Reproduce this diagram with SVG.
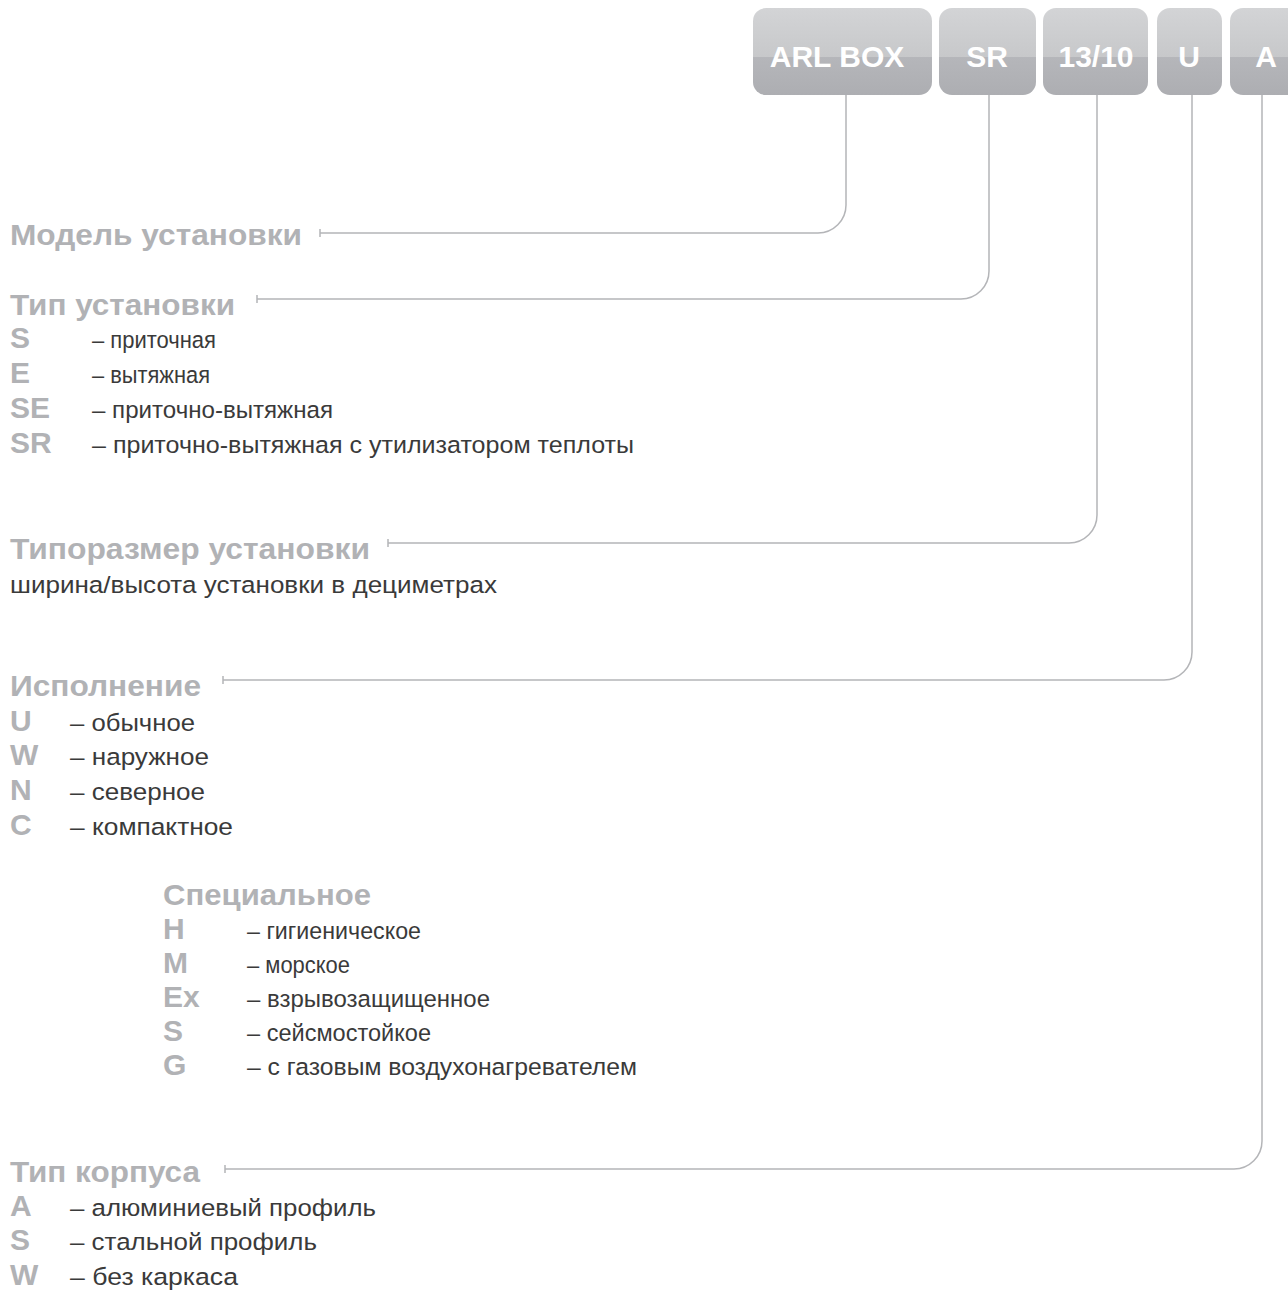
<svg xmlns="http://www.w3.org/2000/svg" width="1288" height="1292" viewBox="0 0 1288 1292">
<defs>
<linearGradient id="gbox" x1="0" y1="0" x2="0" y2="1">
<stop offset="0" stop-color="#d3d4d6"/>
<stop offset="0.565" stop-color="#c7c8ca"/>
<stop offset="0.565" stop-color="#b5b6ba"/>
<stop offset="1" stop-color="#adaeb2"/>
</linearGradient>
<style>
.box{fill:url(#gbox);}
.bt{font-family:"Liberation Sans",Arial,sans-serif;font-weight:bold;font-size:30px;fill:#ffffff;text-anchor:middle;}
.h{font-family:"Liberation Sans",Arial,sans-serif;font-weight:bold;font-size:30px;fill:#b1b2b5;}
.c{font-family:"Liberation Sans",Arial,sans-serif;font-weight:bold;font-size:30px;fill:#b1b2b5;}
.d{font-family:"Liberation Sans",Arial,sans-serif;font-size:24.5px;fill:#3a3a3a;}
.ln{fill:none;stroke:#b4b5b8;stroke-width:1.5;}
</style>
</defs>
<g id="box-arl"><rect class="box" x="753" y="8" width="179" height="87" rx="13"/><text class="bt" x="837" y="67">ARL BOX</text></g>
<g id="box-sr"><rect class="box" x="939" y="8" width="97" height="87" rx="13"/><text class="bt" x="987" y="67">SR</text></g>
<g id="box-size"><rect class="box" x="1043" y="8" width="105" height="87" rx="13"/><text class="bt" x="1096" y="67">13/10</text></g>
<g id="box-u"><rect class="box" x="1157" y="8" width="65" height="87" rx="13"/><text class="bt" x="1189" y="67">U</text></g>
<g id="box-a"><rect class="box" x="1230" y="8" width="72" height="87" rx="13"/><text class="bt" x="1266" y="67">A</text></g>

<g id="connectors">
<path class="ln" d="M846,95 V205 A28,28 0 0 1 818,233 H320 M320,229 V237"/>
<path class="ln" d="M989,95 V271 A28,28 0 0 1 961,299 H257 M257,295 V303"/>
<path class="ln" d="M1097,95 V515 A28,28 0 0 1 1069,543 H388 M388,539 V547"/>
<path class="ln" d="M1192,95 V652 A28,28 0 0 1 1164,680 H223 M223,676 V684"/>
<path class="ln" d="M1262,95 V1141 A28,28 0 0 1 1234,1169 H225 M225,1165 V1173"/>
</g>

<g id="model">
<text class="h" x="10" y="245" textLength="292" lengthAdjust="spacingAndGlyphs">Модель установки</text>
</g>

<g id="type">
<text class="h" x="10" y="315" textLength="225" lengthAdjust="spacingAndGlyphs">Тип установки</text>
<text class="c" x="10" y="348">S</text><text class="d" x="92" y="348" textLength="124" lengthAdjust="spacingAndGlyphs">– приточная</text>
<text class="c" x="10" y="383">E</text><text class="d" x="92" y="383" textLength="118" lengthAdjust="spacingAndGlyphs">– вытяжная</text>
<text class="c" x="10" y="418">SE</text><text class="d" x="92" y="418" textLength="241" lengthAdjust="spacingAndGlyphs">– приточно-вытяжная</text>
<text class="c" x="10" y="453">SR</text><text class="d" x="92" y="453" textLength="542" lengthAdjust="spacingAndGlyphs">– приточно-вытяжная с утилизатором теплоты</text>
</g>

<g id="size">
<text class="h" x="10" y="559" textLength="360" lengthAdjust="spacingAndGlyphs">Типоразмер установки</text>
<text class="d" x="10" y="593" textLength="487" lengthAdjust="spacingAndGlyphs">ширина/высота установки в дециметрах</text>
</g>

<g id="execution">
<text class="h" x="10" y="696" textLength="191" lengthAdjust="spacingAndGlyphs">Исполнение</text>
<text class="c" x="10" y="731">U</text><text class="d" x="70" y="731" textLength="125" lengthAdjust="spacingAndGlyphs">– обычное</text>
<text class="c" x="10" y="765">W</text><text class="d" x="70" y="765" textLength="139" lengthAdjust="spacingAndGlyphs">– наружное</text>
<text class="c" x="10" y="800">N</text><text class="d" x="70" y="800" textLength="135" lengthAdjust="spacingAndGlyphs">– северное</text>
<text class="c" x="10" y="835">C</text><text class="d" x="70" y="835" textLength="163" lengthAdjust="spacingAndGlyphs">– компактное</text>
</g>

<g id="special">
<text class="h" x="163" y="905" textLength="208" lengthAdjust="spacingAndGlyphs">Специальное</text>
<text class="c" x="163" y="939">H</text><text class="d" x="247" y="939" textLength="174" lengthAdjust="spacingAndGlyphs">– гигиеническое</text>
<text class="c" x="163" y="973">M</text><text class="d" x="247" y="973" textLength="103" lengthAdjust="spacingAndGlyphs">– морское</text>
<text class="c" x="163" y="1007">Ex</text><text class="d" x="247" y="1007" textLength="243" lengthAdjust="spacingAndGlyphs">– взрывозащищенное</text>
<text class="c" x="163" y="1041">S</text><text class="d" x="247" y="1041" textLength="184" lengthAdjust="spacingAndGlyphs">– сейсмостойкое</text>
<text class="c" x="163" y="1075">G</text><text class="d" x="247" y="1075" textLength="390" lengthAdjust="spacingAndGlyphs">– с газовым воздухонагревателем</text>
</g>

<g id="housing">
<text class="h" x="10" y="1182" textLength="190" lengthAdjust="spacingAndGlyphs">Тип корпуса</text>
<text class="c" x="10" y="1216">A</text><text class="d" x="70" y="1216" textLength="306" lengthAdjust="spacingAndGlyphs">– алюминиевый профиль</text>
<text class="c" x="10" y="1250">S</text><text class="d" x="70" y="1250" textLength="247" lengthAdjust="spacingAndGlyphs">– стальной профиль</text>
<text class="c" x="10" y="1285">W</text><text class="d" x="70" y="1285" textLength="168" lengthAdjust="spacingAndGlyphs">– без каркаса</text>
</g>
</svg>
